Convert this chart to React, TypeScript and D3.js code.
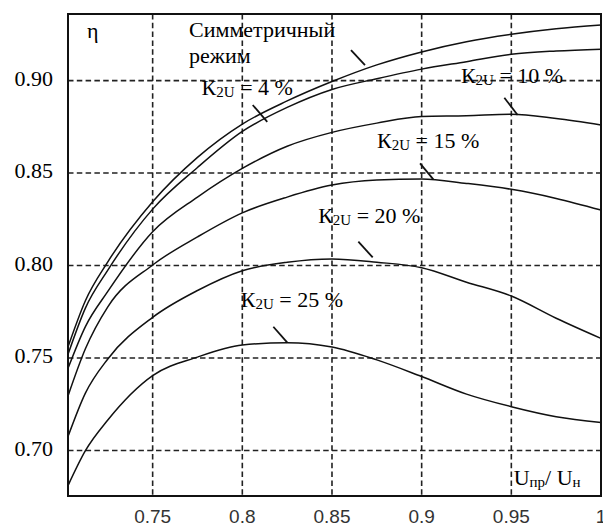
import React, { useRef, useLayoutEffect } from 'react';
import * as d3 from 'd3';

// U_пр / U_н values where the curves were read
const xValues = [0.7028, 0.7125, 0.725, 0.75, 0.775, 0.8, 0.825, 0.85, 0.875, 0.9, 0.925, 0.95, 0.975, 1.0];

// efficiency η for each unbalance level
const symValues = [0.756, 0.781, 0.802, 0.8345, 0.8585, 0.8765, 0.889, 0.8995, 0.9085, 0.9155, 0.921, 0.925, 0.928, 0.93];
const k4Values = [0.752, 0.777, 0.7975, 0.8305, 0.853, 0.8725, 0.8855, 0.8952, 0.901, 0.9062, 0.9102, 0.9142, 0.916, 0.917];
const k10Values = [0.7444, 0.767, 0.786, 0.8183, 0.837, 0.8525, 0.8645, 0.872, 0.877, 0.8806, 0.881, 0.8818, 0.8795, 0.876];
const k15Values = [0.7295, 0.755, 0.7777, 0.8003, 0.8155, 0.8285, 0.837, 0.8435, 0.8462, 0.8468, 0.8444, 0.8412, 0.8363, 0.83];
const k20Values = [0.7075, 0.731, 0.7495, 0.772, 0.7865, 0.7972, 0.8018, 0.8036, 0.8018, 0.7988, 0.791, 0.7835, 0.7715, 0.7606];
const k25Values = [0.681, 0.6999, 0.7165, 0.7405, 0.7505, 0.757, 0.7583, 0.756, 0.749, 0.74, 0.7305, 0.7237, 0.7183, 0.7152];

const xTicks = [0.75, 0.8, 0.85, 0.9, 0.95, 1];
const xTickLabels = ['0.75', '0.8', '0.85', '0.9', '0.95', '1'];
const yTicks = [0.7, 0.75, 0.8, 0.85, 0.9];
const yTickLabels = ['0.70', '0.75', '0.80', '0.85', '0.90'];

// curve labels: [x, y] of text start, pointer line [x1, y1, x2, y2]
const kLabels = [
  { value: '4 %', pos: [0.7773, 0.8922], pointer: [0.8058, 0.8868, 0.8139, 0.8777] },
  { value: '10 %', pos: [0.9219, 0.8985], pointer: [0.9461, 0.8907, 0.9535, 0.8814] },
  { value: '15 %', pos: [0.8751, 0.8634], pointer: [0.8991, 0.8552, 0.9065, 0.8466] },
  { value: '20 %', pos: [0.8423, 0.8228], pointer: [0.8647, 0.8129, 0.8727, 0.8044] },
  { value: '25 %', pos: [0.7991, 0.7777], pointer: [0.8173, 0.7669, 0.8251, 0.7583] }
];
const symLabel = ['Симметричный', 'режим'];
const symLabelPos = [0.7703, 0.9235, 0.9095];
const symPointer = [0.8606, 0.9165, 0.8684, 0.9084];

const Chart = () => {
  const ref = useRef<SVGSVGElement>(null);

  useLayoutEffect(() => {
    const svg = d3.select(ref.current);
    svg.selectAll('*').remove();

    const left = 68, right = 601, top = 14, bottom = 496;
    const x = d3.scaleLinear().domain([0.7028, 1.0]).range([left, right]);
    const y = d3.scaleLinear().domain([0.6754, 0.936]).range([bottom, top]);
    const serif = "'Liberation Serif', 'DejaVu Serif', 'Times New Roman', serif";

    // dashed grid
    const grid = svg.append('g')
      .attr('stroke', '#222')
      .attr('stroke-width', 1.6)
      .attr('stroke-dasharray', '5.5,3.3');
    grid.selectAll('.vgrid').data(xTicks.slice(0, -1)).enter().append('line')
      .attr('x1', d => x(d)).attr('x2', d => x(d))
      .attr('y1', top).attr('y2', bottom);
    grid.selectAll('.hgrid').data(yTicks).enter().append('line')
      .attr('x1', left).attr('x2', right)
      .attr('y1', d => y(d)).attr('y2', d => y(d));

    // frame
    svg.append('rect')
      .attr('x', left).attr('y', top)
      .attr('width', right - left).attr('height', bottom - top)
      .attr('fill', 'none').attr('stroke', '#111').attr('stroke-width', 2);

    // tick labels
    svg.selectAll('.ylab').data(yTicks).enter().append('text')
      .attr('x', 53).attr('y', d => y(d) + 5)
      .attr('text-anchor', 'end')
      .style('font-family', serif).style('font-size', '22px')
      .text((d, i) => yTickLabels[i]);
    svg.selectAll('.xlab').data(xTicks).enter().append('text')
      .attr('x', d => x(d)).attr('y', 523)
      .attr('text-anchor', 'middle')
      .attr('fill', '#333')
      .style('font-family', "'Liberation Sans', Arial, sans-serif").style('font-size', '19px')
      .text((d, i) => xTickLabels[i]);

    // curves
    const line = d3.line<number>()
      .x((d, i) => x(xValues[i]))
      .y(d => y(d))
      .curve(d3.curveMonotoneX);
    [symValues, k4Values, k10Values, k15Values, k20Values, k25Values].forEach(vals => {
      svg.append('path')
        .datum(vals)
        .attr('fill', 'none')
        .attr('stroke', '#111')
        .attr('stroke-width', 1.5)
        .attr('d', line);
    });

    // pointers
    const pointers = [symPointer, ...kLabels.map(k => k.pointer)];
    svg.selectAll('.ptr').data(pointers).enter().append('line')
      .attr('x1', d => x(d[0])).attr('y1', d => y(d[1]))
      .attr('x2', d => x(d[2])).attr('y2', d => y(d[3]))
      .attr('stroke', '#111').attr('stroke-width', 1.8);

    // curve labels
    symLabel.forEach((t, i) => {
      svg.append('text')
        .attr('x', x(symLabelPos[0])).attr('y', y(symLabelPos[1 + i]))
        .style('font-family', serif).style('font-size', '22px')
        .text(t);
    });
    kLabels.forEach(k => {
      const t = svg.append('text')
        .attr('x', x(k.pos[0])).attr('y', y(k.pos[1]))
        .style('font-family', serif).style('font-size', '22px');
      t.append('tspan').text('К');
      t.append('tspan').attr('dy', 2).style('font-size', '15px').text('2U');
      t.append('tspan').attr('dy', -2).text(' = ' + k.value);
    });

    // axis names
    svg.append('text')
      .attr('x', x(0.7134)).attr('y', y(0.923))
      .style('font-family', serif).style('font-size', '22px')
      .text('η');
    const ax = svg.append('text')
      .attr('x', x(0.9513)).attr('y', y(0.6813))
      .style('font-family', serif).style('font-size', '22px');
    ax.append('tspan').text('U');
    ax.append('tspan').attr('dy', 2).style('font-size', '15px').text('пр');
    ax.append('tspan').attr('dy', -2).text('/ U');
    ax.append('tspan').attr('dy', 2).style('font-size', '15px').text('н');
  }, []);

  return <svg ref={ref} width={603} height={527} style={{ position: 'absolute', left: 0, top: 0, background: '#fff' }}></svg>;
};

export default function App() {
  return <Chart />;
}
